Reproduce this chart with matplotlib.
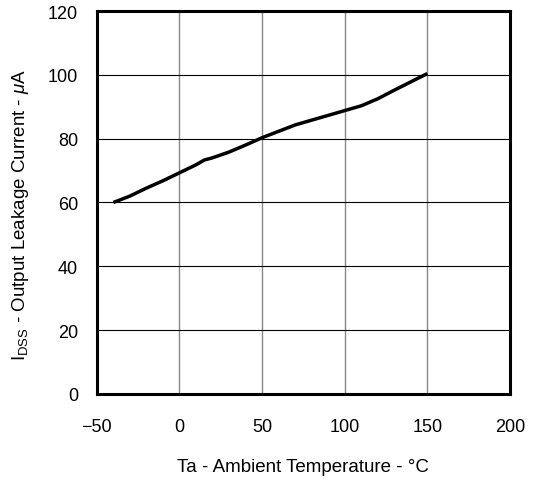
import matplotlib
matplotlib.use("Agg")
import matplotlib.pyplot as plt

# leakage current vs ambient temperature
temp = [-40, -30, -20, -10, 0, 10, 15, 20, 30, 40, 50, 60, 70, 80, 90, 100, 110, 120, 130, 140, 150]
idss = [60.0, 62.0, 64.5, 66.8, 69.3, 71.8, 73.3, 74.0, 75.8, 78.0, 80.3, 82.3, 84.3, 85.8, 87.3, 88.8, 90.3, 92.5, 95.2, 97.8, 100.4]

xticks = [-50, 0, 50, 100, 150, 200]
yticks = [0, 20, 40, 60, 80, 100, 120]

plt.rcParams['font.family'] = ['Liberation Sans', 'DejaVu Sans']
plt.rcParams['mathtext.fontset'] = 'custom'
plt.rcParams['mathtext.rm'] = 'Liberation Sans'
plt.rcParams['mathtext.it'] = 'Liberation Sans:italic'

fig = plt.figure(figsize=(5.38, 4.81), dpi=100)
ax = fig.add_axes([0.180, 0.179, 0.768, 0.796])

# grid: vertical grey, horizontal black
for xv in xticks[1:-1]:
    ax.axvline(xv, color="#888888", lw=1.0, zorder=1)
for yv in yticks[1:-1]:
    ax.axhline(yv, color="black", lw=0.8, zorder=1)

ax.plot(temp, idss, color="black", lw=2.5, solid_capstyle="butt", zorder=3)

ax.set_xlim(-50, 200)
ax.set_ylim(0, 120)
ax.set_xticks(xticks)
ax.set_yticks(yticks)
ax.tick_params(length=0, labelsize=13)
ax.tick_params(axis="x", pad=17)
ax.tick_params(axis="y", pad=13.5)
for s in ax.spines.values():
    s.set_linewidth(2.2)

fig.text(0.564, 0.029, "Ta - Ambient Temperature - °C", fontsize=13.5,
         ha="center", va="center")
fig.text(0.039, 0.553, r"I$_{\mathregular{DSS}}$ - Output Leakage Current - $\mathit{\mu}$A",
         fontsize=13.5, rotation=90, ha="center", va="center")

fig.savefig("out.png", dpi=100)
